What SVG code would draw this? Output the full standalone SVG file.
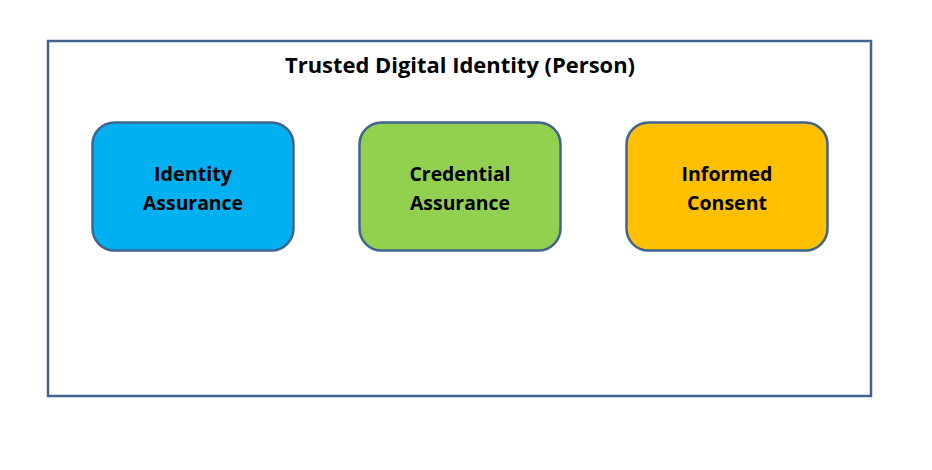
<svg xmlns="http://www.w3.org/2000/svg" width="932" height="470" viewBox="0 0 932 470">
  <style>
    .frame { fill: #ffffff; stroke: #41648e; stroke-width: 2.5; }
    .box { stroke: #41648e; stroke-width: 2.5; }
    .title { font-family: "Open Sans", "Liberation Sans", sans-serif; font-weight: bold; font-size: 21px; fill: #000; text-anchor: middle; }
    .label { font-family: "Open Sans", "Liberation Sans", sans-serif; font-weight: bold; font-size: 19.5px; fill: #000; text-anchor: middle; }
  </style>
  <rect width="932" height="470" fill="#ffffff"/>
  <g id="frame">
    <rect class="frame" x="48" y="41" width="823" height="355"/>
    <text class="title" x="460" y="73" textLength="350" lengthAdjust="spacingAndGlyphs">Trusted Digital Identity (Person)</text>
  </g>
  <g id="identity-assurance">
    <rect class="box" x="92.5" y="122.5" width="201" height="128" rx="22" fill="#00b0f0"/>
    <text class="label" x="193" y="181" textLength="78" lengthAdjust="spacingAndGlyphs">Identity</text>
    <text class="label" x="193" y="210" textLength="100" lengthAdjust="spacingAndGlyphs">Assurance</text>
  </g>
  <g id="credential-assurance">
    <rect class="box" x="359.5" y="122.5" width="201" height="128" rx="22" fill="#92d050"/>
    <text class="label" x="460" y="181" textLength="101" lengthAdjust="spacingAndGlyphs">Credential</text>
    <text class="label" x="460" y="210" textLength="100" lengthAdjust="spacingAndGlyphs">Assurance</text>
  </g>
  <g id="informed-consent">
    <rect class="box" x="626.5" y="122.5" width="201" height="128" rx="22" fill="#ffc000"/>
    <text class="label" x="727" y="181" textLength="91" lengthAdjust="spacingAndGlyphs">Informed</text>
    <text class="label" x="727" y="210" textLength="80" lengthAdjust="spacingAndGlyphs">Consent</text>
  </g>
  <g id="connectors"/>
</svg>
